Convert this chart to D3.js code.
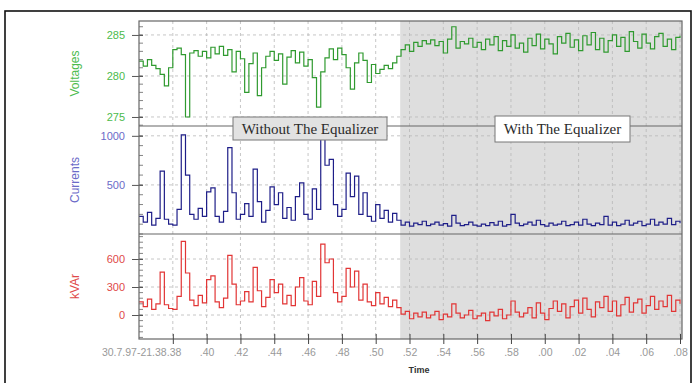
<!DOCTYPE html>
<html>
<head>
<meta charset="utf-8">
<script src="https://cdn.jsdelivr.net/npm/d3@7"></script>
<style>
  body { margin: 0; background: #fff; }
  svg { display: block; font-family: 'Liberation Sans', Arial, sans-serif; }
</style>
</head>
<body>
<div id="chart"></div>
<script>
// readings, one every 15 s starting 30.7.97 21:36
const startTime = new Date(1997, 6, 30, 21, 36, 0);
const endTime = new Date(1997, 6, 30, 22, 8, 0);
const stepSeconds = 15;
const equalizerOn = new Date(1997, 6, 30, 21, 51, 27);

const voltages = [
  281.8, 281.2, 282.0, 281.3, 280.9, 280.2, 278.8, 281.0, 283.2, 283.4,
  282.6, 275.0, 282.8, 283.1, 282.4, 283.0, 282.2, 283.5, 282.7, 283.6,
  282.5, 283.2, 280.5, 283.0, 282.1, 278.0, 281.5, 282.8, 277.6, 281.0,
  282.4, 283.0, 281.9, 282.7, 279.0, 282.3, 283.1, 281.6, 282.9, 281.2,
  282.0, 279.8, 276.2, 280.5, 282.2, 283.3, 282.0, 283.4, 282.6, 281.0,
  278.4, 281.6, 282.8, 281.9, 279.2, 281.4, 280.3, 280.8, 281.3, 280.9,
  281.6, 282.4, 283.2, 283.8, 283.0, 284.1, 283.6, 284.3, 283.9, 284.4,
  283.7, 284.2, 282.8, 284.5, 286.0, 283.4, 284.2, 283.9, 284.6, 283.5,
  284.1, 283.2, 284.5, 283.8, 284.8, 283.1, 284.3, 283.6, 285.0, 283.4,
  284.0, 282.9, 284.6, 283.7, 285.1, 283.3, 284.5, 283.9, 282.7, 284.8,
  284.0, 285.2, 283.5, 284.4, 283.1, 284.9, 283.8, 285.3, 283.2, 284.6,
  282.9, 284.3, 285.0, 283.6, 284.7, 283.0, 285.4, 284.2, 283.4, 285.1,
  284.0, 283.3, 284.8, 285.2, 283.6, 284.5, 283.2, 284.7, 284.9
];

const currents = [
  180, 120, 220, 90, 160, 640, 150, 100, 90, 250,
  1010, 600, 200, 150, 260, 180, 430, 470, 180, 120,
  230, 880, 420, 150, 200, 310, 180, 660, 330, 120,
  240, 480, 300, 420, 160, 270, 140, 380, 520, 200,
  150, 460, 250, 1000, 700, 760, 300, 180, 250, 620,
  380, 590, 200, 420, 180, 130, 300, 160, 240, 120,
  210, 140, 90, 120, 80, 110, 95, 130, 85, 100,
  120, 90, 105, 80, 190, 110, 85, 95, 120, 90,
  80, 100, 85, 115, 90, 130, 80, 95, 200, 110,
  85, 100, 120, 90, 140, 95, 80, 110, 90, 100,
  130, 85, 95, 120, 90, 150, 100, 85, 110, 95,
  180, 90, 120, 85, 100, 140, 90, 110, 130, 85,
  100, 150, 90, 120, 100, 160, 95, 130, 110
];

const kvar = [
  140, 90, 170, 60, 120, 460, 110, 70, 60, 200,
  790, 450, 160, 100, 210, 130, 380, 420, 140, 80,
  180, 640, 330, 110, 150, 250, 140, 510, 260, 90,
  190, 380, 240, 330, 120, 210, 100, 300, 400, 150,
  110, 360, 200, 760, 560, 600, 240, 140, 200, 500,
  300, 470, 160, 330, 140, 100, 240, 120, 190, 90,
  160, 80, 10, 40, -40, 20, -20, 30, -30, 0,
  40, -50, 10, -20, 120, 20, -30, 0, 50, -40,
  -10, 20, -60, 30, -10, 60, -40, 0, 150, 30,
  -20, 20, 80, -30, 130, 20, -50, 70, 150, 40,
  120, -30, 90, 160, 20, 180, 60, -20, 140, 80,
  200, 40, 150, -10, 110, 190, 30, 130, 170, 20,
  100, 200, 60, 150, 90, 210, 40, 160, 120
];

const voltTicks = [275, 280, 285];
const currTicks = [500, 1000];
const kvarTicks = [0, 300, 600];
const xTickLabels = ['30.7.97-21.38.38', '.40', '.42', '.44', '.46', '.48', '.50', '.52',
  '.54', '.56', '.58', '.00', '.02', '.04', '.06', '.08'];

const width = 692, height = 383;
const plotLeft = 139, plotRight = 682, plotTop = 21, plotBottom = 339;

const svg = d3.select('#chart').append('svg')
  .attr('width', width)
  .attr('height', height);

// outer frame
svg.append('rect')
  .attr('x', 5).attr('y', 11)
  .attr('width', 686).attr('height', 380)
  .attr('fill', 'none').attr('stroke', '#111').attr('stroke-width', 1.6);

const x = d3.scaleTime().domain([startTime, endTime]).range([plotLeft, 680]);
const timeAt = (i) => new Date(startTime.getTime() + i * stepSeconds * 1000);

// shaded part where the equalizer is on
svg.append('rect')
  .attr('x', x(equalizerOn)).attr('y', plotTop)
  .attr('width', plotRight - x(equalizerOn)).attr('height', plotBottom - plotTop)
  .attr('fill', '#dedede');

const panels = [
  { name: 'Voltages', data: voltages, ticks: voltTicks, minor: 1, domain: [273.9, 286.7],
    range: [126, plotTop], line: '#2f9a2f', label: '#4cbb4c' },
  { name: 'Currents', data: currents, ticks: currTicks, minor: 100, domain: [0, 1100],
    range: [234, 126], line: '#1e1e88', label: '#6b6bc8' },
  { name: 'kVAr', data: kvar, ticks: kvarTicks, minor: 60, domain: [-257, 868],
    range: [plotBottom, 234], line: '#e23535', label: '#e04848' },
];

// x tick times, every 2 minutes from 21:38
const xTicks = xTickLabels.map((d, i) => new Date(startTime.getTime() + (2 + 2 * i) * 60000));

// vertical grid
svg.append('g')
  .selectAll('line')
  .data(xTicks)
  .join('line')
  .attr('x1', (d) => x(d)).attr('x2', (d) => x(d))
  .attr('y1', plotTop).attr('y2', plotBottom)
  .attr('stroke', '#b8b8b8').attr('stroke-dasharray', '3,3').attr('stroke-width', 0.8);

panels.forEach((p) => {
  const y = d3.scaleLinear().domain(p.domain).range(p.range);

  // horizontal grid
  svg.append('g')
    .selectAll('line')
    .data(p.ticks)
    .join('line')
    .attr('x1', plotLeft).attr('x2', plotRight)
    .attr('y1', (d) => y(d)).attr('y2', (d) => y(d))
    .attr('stroke', '#b8b8b8').attr('stroke-dasharray', '3,3').attr('stroke-width', 0.8);

  // minor ticks inside the axis
  const minor = d3.range(Math.ceil(p.domain[0] / p.minor) * p.minor, p.domain[1], p.minor);
  svg.append('g')
    .selectAll('line')
    .data(minor)
    .join('line')
    .attr('x1', plotLeft).attr('x2', plotLeft + 4)
    .attr('y1', (d) => y(d)).attr('y2', (d) => y(d))
    .attr('stroke', '#666').attr('stroke-width', 0.8);

  // major ticks and labels
  const yAxis = svg.append('g')
    .attr('transform', `translate(${plotLeft},0)`)
    .call(d3.axisLeft(y).tickValues(p.ticks).tickSize(7).tickPadding(7).tickFormat(d3.format('d')));
  yAxis.select('.domain').remove();
  yAxis.selectAll('line').attr('stroke', '#555').attr('x2', -7).attr('x1', 4);
  yAxis.selectAll('text')
    .attr('fill', p.label)
    .style('font-size', '11px');

  svg.append('text')
    .attr('transform', `translate(79,${(p.range[0] + p.range[1]) / 2}) rotate(-90)`)
    .attr('text-anchor', 'middle')
    .attr('fill', p.label)
    .style('font-size', '12px')
    .text(p.name);

  svg.append('path')
    .datum(p.data)
    .attr('fill', 'none')
    .attr('stroke', p.line)
    .attr('stroke-width', 1.2)
    .attr('d', d3.line()
      .x((d, i) => x(timeAt(i)))
      .y((d) => y(d))
      .curve(d3.curveStepAfter));
});

// panel separators and frame of the plot
[126, 234].forEach((yy) => {
  svg.append('line')
    .attr('x1', plotLeft).attr('x2', plotRight).attr('y1', yy).attr('y2', yy)
    .attr('stroke', '#666').attr('stroke-width', 1.2);
});
svg.append('rect')
  .attr('x', plotLeft).attr('y', plotTop)
  .attr('width', plotRight - plotLeft).attr('height', plotBottom - plotTop)
  .attr('fill', 'none').attr('stroke', '#666').attr('stroke-width', 1.2);

// x axis
const xAxis = svg.append('g')
  .attr('transform', `translate(0,${plotBottom})`)
  .call(d3.axisBottom(x).tickValues(xTicks).tickSize(5).tickPadding(5)
    .tickFormat((d, i) => xTickLabels[i]));
xAxis.select('.domain').remove();
xAxis.selectAll('line').attr('stroke', '#444').attr('y1', -5);
xAxis.selectAll('text').attr('fill', '#999').style('font-size', '10.5px');
// the long date label sits left of its tick
xAxis.selectAll('text').filter((d, i) => i === 0)
  .attr('text-anchor', 'end').attr('x', 8);

svg.append('text')
  .attr('x', 419).attr('y', 373)
  .attr('text-anchor', 'middle')
  .attr('fill', '#333')
  .style('font-size', '9px')
  .style('font-weight', 'bold')
  .text('Time');

// annotation boxes
const notes = [
  { text: 'Without The Equalizer', x: 233, y: 117, w: 154, h: 23, fill: '#e2e2e2' },
  { text: 'With The Equalizer', x: 495, y: 116, w: 135, h: 26, fill: '#ffffff' },
];
notes.forEach((n) => {
  svg.append('rect')
    .attr('x', n.x).attr('y', n.y).attr('width', n.w).attr('height', n.h)
    .attr('fill', n.fill).attr('stroke', '#777').attr('stroke-width', 1);
  svg.append('text')
    .attr('x', n.x + n.w / 2).attr('y', n.y + n.h / 2 + 5)
    .attr('text-anchor', 'middle')
    .attr('fill', '#2a2a2a')
    .style('font-family', "'Liberation Serif', 'Times New Roman', serif")
    .style('font-size', '15px')
    .text(n.text);
});
</script>
</body>
</html>
